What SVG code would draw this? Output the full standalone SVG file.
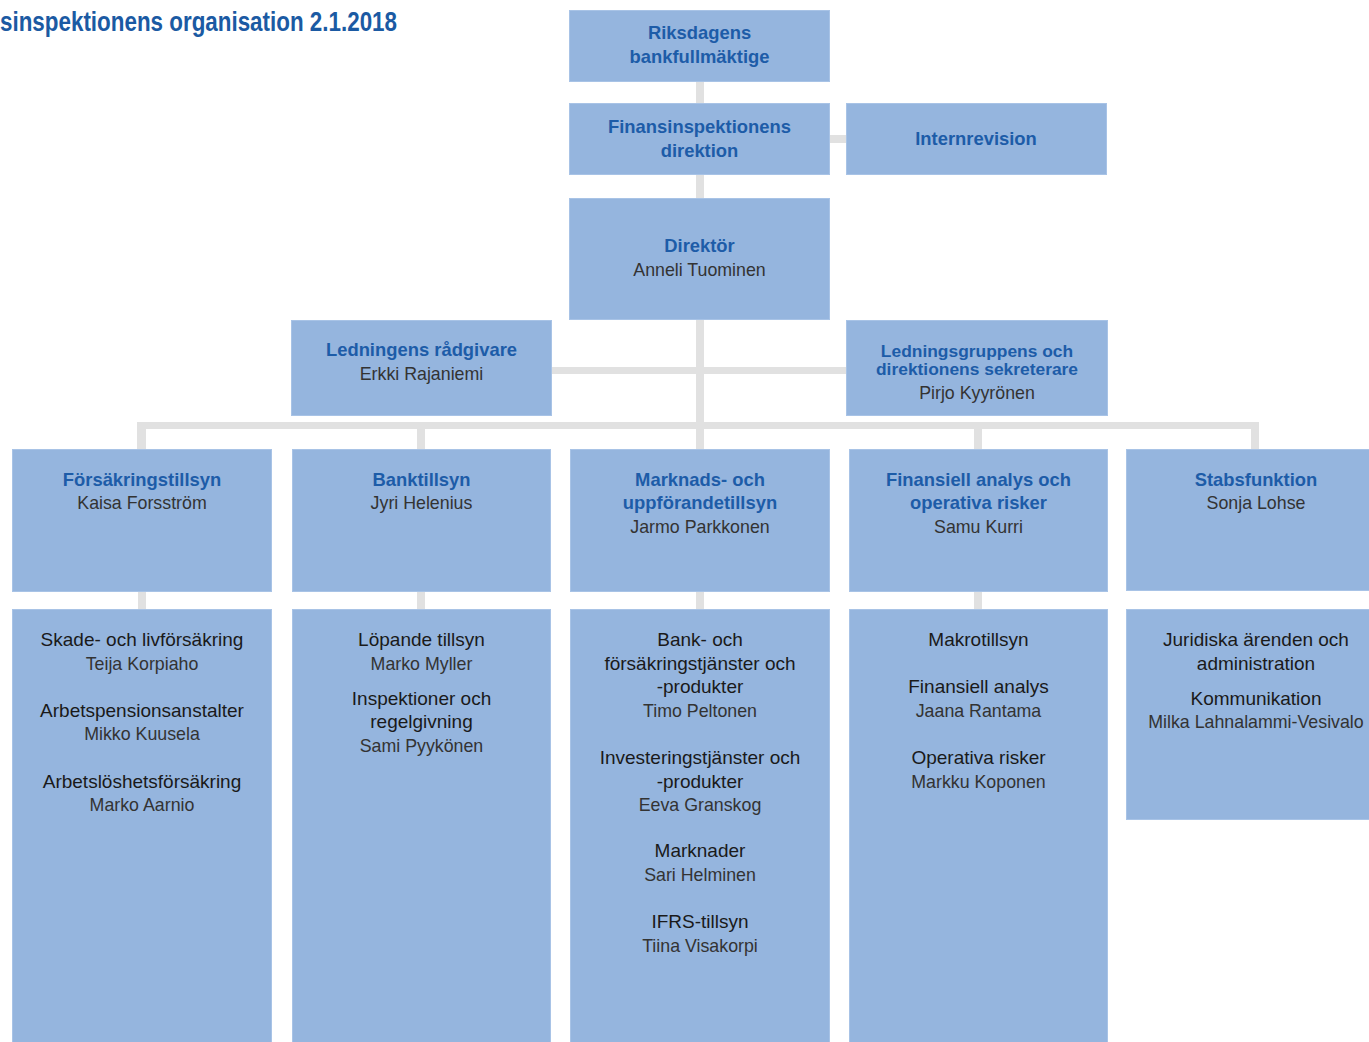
<svg xmlns="http://www.w3.org/2000/svg" width="1369" height="1042" viewBox="0 0 1369 1042">
<style>
.box{fill:#95b5de;stroke:#a8c3e6;stroke-width:1}
.c{fill:#e1e1e1}
text{font-family:"Liberation Sans",Arial,sans-serif;text-anchor:middle}
.h{font-weight:bold;fill:#1d5ca8;font-size:18.4px}
.hs{font-weight:bold;fill:#1d5ca8;font-size:17.4px}
.n{fill:#333;font-size:17.8px}
.t{fill:#1a1a1a;font-size:19px}
.title{font-family:"Liberation Sans Narrow","Liberation Sans",sans-serif;font-weight:bold;fill:#1b5aa3;font-size:27px;text-anchor:start}
</style>
<rect width="1369" height="1042" fill="#fff"/>
<text class="title" x="0" y="31" textLength="397" lengthAdjust="spacingAndGlyphs">sinspektionens organisation 2.1.2018</text>
<g id="connectors">
<rect class="c" x="696" y="81" width="8" height="368"/>
<rect class="c" x="829" y="135" width="17" height="8"/>
<rect class="c" x="551" y="367" width="295" height="7"/>
<rect class="c" x="137" y="422" width="1122" height="7"/>
<rect class="c" x="137" y="422" width="9" height="27"/>
<rect class="c" x="417" y="422" width="8" height="27"/>
<rect class="c" x="974" y="422" width="8" height="27"/>
<rect class="c" x="1251" y="422" width="8" height="27"/>
<rect class="c" x="138" y="591" width="8" height="18"/>
<rect class="c" x="417" y="591" width="8" height="18"/>
<rect class="c" x="696" y="591" width="8" height="18"/>
<rect class="c" x="974" y="591" width="8" height="18"/>
</g>
<g id="riksdagens">
<rect class="box" x="569.5" y="10.5" width="260" height="71"/>
<text class="h" x="699.5" y="39">Riksdagens</text>
<text class="h" x="699.5" y="63">bankfullmäktige</text>
</g>
<g id="direktion">
<rect class="box" x="569.5" y="103.5" width="260" height="71"/>
<text class="h" x="699.5" y="133">Finansinspektionens</text>
<text class="h" x="699.5" y="157">direktion</text>
</g>
<g id="internrevision">
<rect class="box" x="846.5" y="103.5" width="260" height="71"/>
<text class="h" x="976" y="145">Internrevision</text>
</g>
<g id="direktor">
<rect class="box" x="569.5" y="198.5" width="260" height="121"/>
<text class="h" x="699.5" y="252">Direktör</text>
<text class="n" x="699.5" y="276">Anneli Tuominen</text>
</g>
<g id="radgivare">
<rect class="box" x="291.5" y="320.5" width="260" height="95"/>
<text class="h" x="421.5" y="356">Ledningens rådgivare</text>
<text class="n" x="421.5" y="380">Erkki Rajaniemi</text>
</g>
<g id="sekreterare">
<rect class="box" x="846.5" y="320.5" width="261" height="95"/>
<text class="hs" x="977" y="357">Ledningsgruppens och</text>
<text class="hs" x="977" y="375">direktionens sekreterare</text>
<text class="n" x="977" y="399">Pirjo Kyyrönen</text>
</g>
<g id="forsakringstillsyn">
<rect class="box" x="12.5" y="449.5" width="259" height="142"/>
<text class="h" x="142" y="486">Försäkringstillsyn</text>
<text class="n" x="142" y="509">Kaisa Forsström</text>
</g>
<g id="banktillsyn">
<rect class="box" x="292.5" y="449.5" width="258" height="142"/>
<text class="h" x="421.5" y="486">Banktillsyn</text>
<text class="n" x="421.5" y="509">Jyri Helenius</text>
</g>
<g id="marknads">
<rect class="box" x="570.5" y="449.5" width="259" height="142"/>
<text class="h" x="700" y="486">Marknads- och</text>
<text class="h" x="700" y="509">uppförandetillsyn</text>
<text class="n" x="700" y="533">Jarmo Parkkonen</text>
</g>
<g id="finansiell">
<rect class="box" x="849.5" y="449.5" width="258" height="142"/>
<text class="h" x="978.5" y="486">Finansiell analys och</text>
<text class="h" x="978.5" y="509">operativa risker</text>
<text class="n" x="978.5" y="533">Samu Kurri</text>
</g>
<g id="stabsfunktion">
<rect class="box" x="1126.5" y="449.5" width="259" height="141"/>
<text class="h" x="1256" y="486">Stabsfunktion</text>
<text class="n" x="1256" y="509">Sonja Lohse</text>
</g>
<g id="forsakring-enheter">
<rect class="box" x="12.5" y="609.5" width="259" height="440"/>
<text class="t" x="142" y="646">Skade- och livförsäkring</text>
<text class="n" x="142" y="670">Teija Korpiaho</text>
<text class="t" x="142" y="717">Arbetspensionsanstalter</text>
<text class="n" x="142" y="740">Mikko Kuusela</text>
<text class="t" x="142" y="788">Arbetslöshetsförsäkring</text>
<text class="n" x="142" y="811">Marko Aarnio</text>
</g>
<g id="bank-enheter">
<rect class="box" x="292.5" y="609.5" width="258" height="440"/>
<text class="t" x="421.5" y="646">Löpande tillsyn</text>
<text class="n" x="421.5" y="670">Marko Myller</text>
<text class="t" x="421.5" y="705">Inspektioner och</text>
<text class="t" x="421.5" y="728">regelgivning</text>
<text class="n" x="421.5" y="752">Sami Pyykönen</text>
</g>
<g id="marknads-enheter">
<rect class="box" x="570.5" y="609.5" width="259" height="440"/>
<text class="t" x="700" y="646">Bank- och</text>
<text class="t" x="700" y="670">försäkringstjänster och</text>
<text class="t" x="700" y="693">-produkter</text>
<text class="n" x="700" y="717">Timo Peltonen</text>
<text class="t" x="700" y="764">Investeringstjänster och</text>
<text class="t" x="700" y="788">-produkter</text>
<text class="n" x="700" y="811">Eeva Granskog</text>
<text class="t" x="700" y="857">Marknader</text>
<text class="n" x="700" y="881">Sari Helminen</text>
<text class="t" x="700" y="928">IFRS-tillsyn</text>
<text class="n" x="700" y="952">Tiina Visakorpi</text>
</g>
<g id="finansiell-enheter">
<rect class="box" x="849.5" y="609.5" width="258" height="440"/>
<text class="t" x="978.5" y="646">Makrotillsyn</text>
<text class="t" x="978.5" y="693">Finansiell analys</text>
<text class="n" x="978.5" y="717">Jaana Rantama</text>
<text class="t" x="978.5" y="764">Operativa risker</text>
<text class="n" x="978.5" y="788">Markku Koponen</text>
</g>
<g id="stabs-enheter">
<rect class="box" x="1126.5" y="609.5" width="259" height="210"/>
<text class="t" x="1256" y="646">Juridiska ärenden och</text>
<text class="t" x="1256" y="670">administration</text>
<text class="t" x="1256" y="705">Kommunikation</text>
<text class="n" x="1256" y="728">Milka Lahnalammi-Vesivalo</text>
</g>
</svg>
